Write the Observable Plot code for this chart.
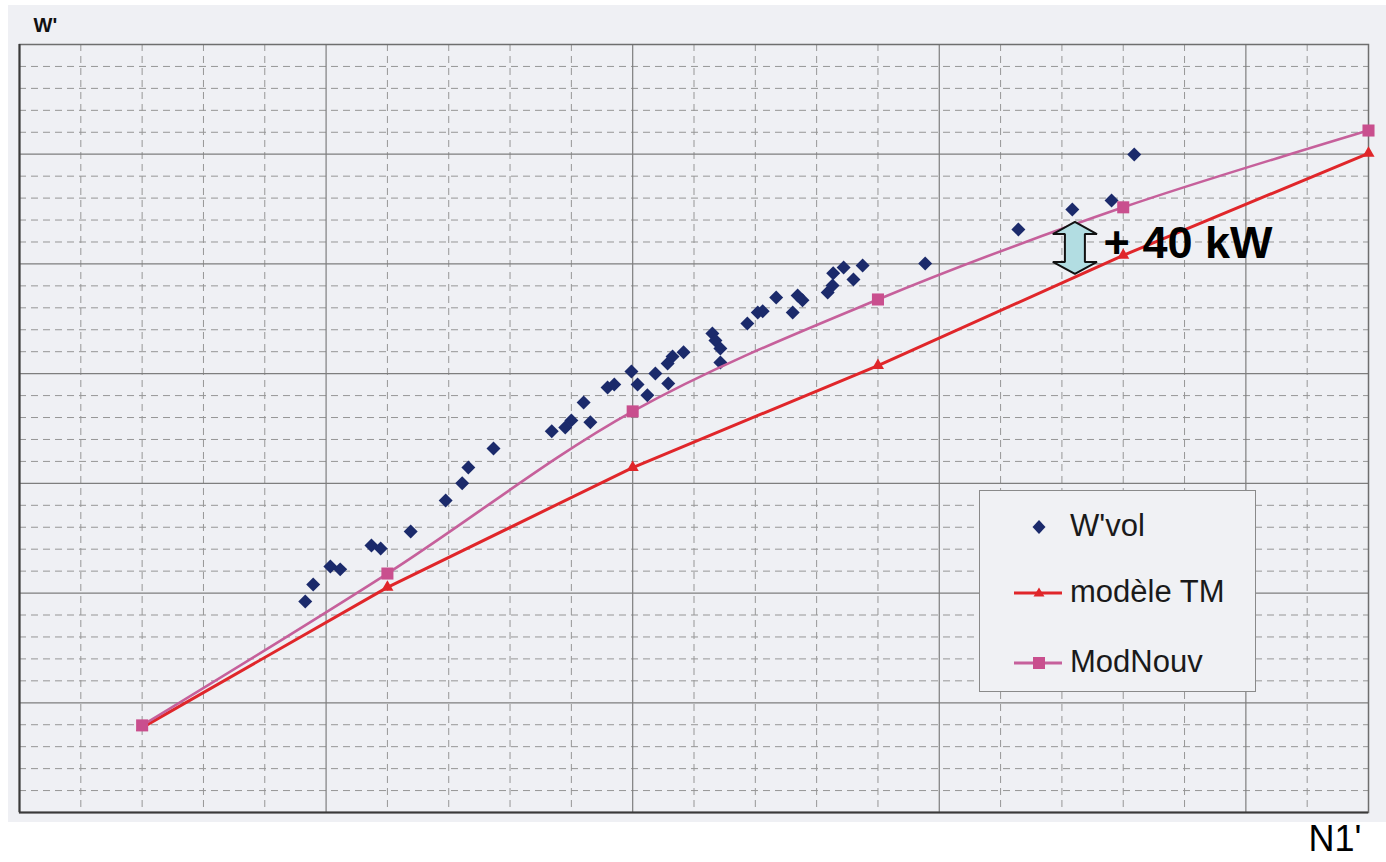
<!DOCTYPE html>
<html>
<head>
<meta charset="utf-8">
<script src="https://cdn.jsdelivr.net/npm/d3@7"></script>
<script src="https://cdn.jsdelivr.net/npm/@observablehq/plot@0.6"></script>
<style>
html, body { margin: 0; padding: 0; background: #ffffff; }
#wrap { position: relative; width: 1386px; height: 862px; overflow: hidden; font-family: "Liberation Sans", Arial, sans-serif; }
#scan { position: absolute; left: 8px; top: 5px; width: 1378px; height: 817px; background: #eff0f4; }
#chart { position: absolute; left: 0; top: 0; }
#legend { position: absolute; left: 979px; top: 490px; width: 275px; height: 200px; background: #f0f1f4; border: 1.5px solid #8a8a8a; }
.item { position: absolute; left: 0; width: 275px; height: 44px; }
.item svg { position: absolute; left: 34px; top: 0; }
.item span { position: absolute; left: 90px; top: 3px; font-size: 31px; line-height: 36px; color: #1a1a1a; white-space: nowrap; }
</style>
</head>
<body>
<div id="wrap">
  <div id="scan"></div>
  <div id="chart"></div>
  <div id="legend"></div>
</div>
<script>
// ---- data (axis units; no tick labels in the original) ----
const modelX   = [2, 6, 10, 14, 18, 22];
const modeleTM = [3.87, 10.26, 15.72, 20.37, 25.39, 30.04];
const modNouv  = [3.97, 10.89, 18.28, 23.38, 27.58, 31.08];

const wvolX = [4.66, 4.79, 5.07, 5.23, 5.74, 5.89, 6.38, 6.95, 7.22, 7.32, 7.73,
               8.68, 8.90, 9.00, 9.20, 9.31, 9.59, 9.70, 9.98, 10.08, 10.24, 10.37,
               10.58, 10.57, 10.65, 10.83, 11.30, 11.35, 11.43, 11.43, 11.87, 12.04,
               12.12, 12.34, 12.61, 12.69, 12.77, 13.18, 13.26, 13.27, 13.44, 13.60,
               13.75, 14.77, 16.29, 17.17, 17.81, 18.18];
const wvolY = [9.62, 10.39, 11.21, 11.08, 12.17, 12.03, 12.81, 14.22, 15.00, 15.72, 16.59,
               17.37, 17.55, 17.87, 18.69, 17.78, 19.37, 19.51, 20.10, 19.51, 19.01, 20.01,
               19.55, 20.46, 20.78, 20.97, 21.83, 21.51, 21.15, 20.51, 22.29, 22.79,
               22.84, 23.47, 22.79, 23.56, 23.34, 23.70, 24.02, 24.57, 24.84, 24.29,
               24.93, 25.02, 26.57, 27.48, 27.89, 29.99];

const seriesNames = ["W'vol", "modèle TM", "ModNouv"];
const axisLabels = ["W'", "N1'"];
const annotation = "+ 40 kW";

// grid positions (minor every unit, major every 5)
const xMajor = [0, 5, 10, 15, 20];
const xMinor = [1, 2, 3, 4, 6, 7, 8, 9, 11, 12, 13, 14, 16, 17, 18, 19, 21];
const yMajor = [0, 5, 10, 15, 20, 25, 30, 35];
const yMinor = [1, 2, 3, 4, 6, 7, 8, 9, 11, 12, 13, 14, 16, 17, 18, 19,
                21, 22, 23, 24, 26, 27, 28, 29, 31, 32, 33, 34];

// double arrow showing the +40 kW gap (vertical profile: y levels and half widths)
const arrowCx = 17.22;
const arrowY    = [24.52, 25.07, 25.07, 26.34, 26.34, 26.89];
const arrowHalf = [0, 0.36, 0.163, 0.163, 0.36, 0];

// ---- colours ----
const navy = "#1b2a6b";
const red = "#e0262a";
const pink = "#c94f8e";
const pinkLine = "#c6609b";

const wvol = wvolX.map((x, i) => ({x, y: wvolY[i]}));
const tm = modelX.map((x, i) => ({x, y: modeleTM[i]}));
const nouv = modelX.map((x, i) => ({x, y: modNouv[i]}));
const arrow = arrowY.map((y, i) => ({y, x1: arrowCx - arrowHalf[i], x2: arrowCx + arrowHalf[i]}));

const chart = Plot.plot({
  width: 1386,
  height: 862,
  marginLeft: 19,
  marginTop: 44,
  marginRight: 18,
  marginBottom: 50,
  x: {domain: [0, 22], axis: null},
  y: {domain: [0, 35], axis: null},
  style: {background: "transparent", fontFamily: "'Liberation Sans', Arial, sans-serif"},
  marks: [
    Plot.ruleX(xMinor, {stroke: "#969696", strokeDasharray: "7,5", strokeWidth: 1}),
    Plot.ruleY(yMinor, {stroke: "#969696", strokeDasharray: "7,5", strokeWidth: 1}),
    Plot.ruleX(xMajor, {stroke: "#7e7e7e", strokeWidth: 1.2}),
    Plot.ruleY(yMajor, {stroke: "#7e7e7e", strokeWidth: 1.2}),
    Plot.frame({stroke: "#6e6e6e", strokeWidth: 1.5}),
    Plot.ruleX([0], {stroke: "#3a3a3a", strokeWidth: 2}),
    Plot.ruleY([0], {stroke: "#3a3a3a", strokeWidth: 2}),
    Plot.dot(wvol, {x: "x", y: "y", symbol: "diamond2", r: 6.3, fill: navy, stroke: null}),
    Plot.line(tm, {x: "x", y: "y", stroke: red, strokeWidth: 3}),
    Plot.dot(tm, {x: "x", y: "y", symbol: "triangle", r: 4.5, fill: red, stroke: null}),
    Plot.line(nouv, {x: "x", y: "y", stroke: pinkLine, strokeWidth: 2.6, curve: "catmull-rom"}),
    Plot.dot(nouv, {x: "x", y: "y", symbol: "square", r: 6.8, fill: pink, stroke: null}),
    Plot.areaX(arrow, {y: "y", x1: "x1", x2: "x2", fill: "#b2dde2", stroke: "#111", strokeWidth: 2, strokeLinejoin: "miter"}),
    Plot.text([annotation], {x: 17.68, y: 25.91, text: d => d, textAnchor: "start", lineAnchor: "middle",
      fontSize: 45, fontWeight: "bold", fill: "#000"}),
    Plot.text([axisLabels[0]], {frameAnchor: "top-left", text: d => d, dx: 14, dy: -19,
      textAnchor: "start", lineAnchor: "middle", fontSize: 20, fontWeight: "bold", fill: "#111"}),
    Plot.text([axisLabels[1]], {frameAnchor: "bottom-right", text: d => d, dx: -7, dy: 27,
      textAnchor: "end", lineAnchor: "middle", fontSize: 36, fill: "#000"})
  ]
});
document.getElementById("chart").appendChild(chart);

// ---- legend ----
const legend = document.getElementById("legend");
const rows = [
  {name: seriesNames[0], top: 14, line: null, sym: "diamond", color: navy},
  {name: seriesNames[1], top: 80, line: red, sym: "triangle", color: red},
  {name: seriesNames[2], top: 150, line: pinkLine, sym: "square", color: pink}
];
for (const r of rows) {
  const div = document.createElement("div");
  div.className = "item";
  div.style.top = r.top + "px";
  let shape = "";
  if (r.sym === "diamond") shape = `<path d="M25,15 L31.5,22 L25,29 L18.5,22 Z" fill="${r.color}"/>`;
  if (r.sym === "triangle") shape = `<path d="M25,16.5 L30.5,25.5 L19.5,25.5 Z" fill="${r.color}"/>`;
  if (r.sym === "square") shape = `<rect x="19" y="16" width="12" height="12" fill="${r.color}"/>`;
  const ln = r.line ? `<line x1="0" x2="48" y1="22" y2="22" stroke="${r.line}" stroke-width="3"/>` : "";
  div.innerHTML = `<svg width="50" height="44">${ln}${shape}</svg><span>${r.name}</span>`;
  legend.appendChild(div);
}
</script>
</body>
</html>
